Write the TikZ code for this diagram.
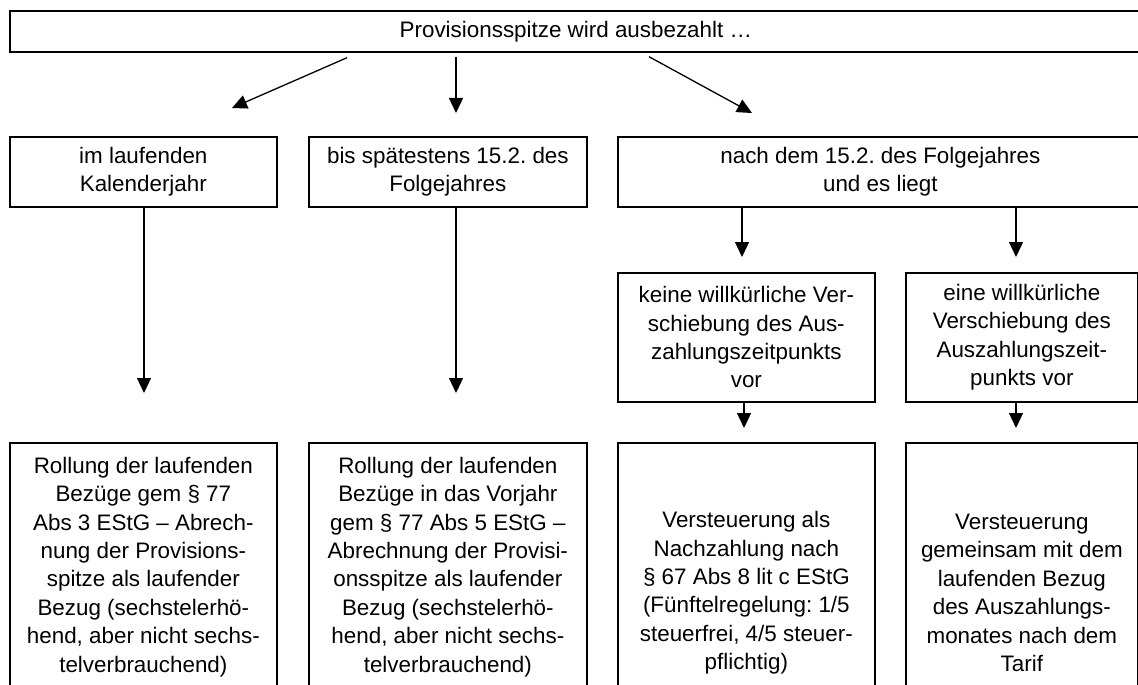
\documentclass[tikz,border=0pt]{standalone}
\usepackage{fontspec}
\setmainfont{Liberation Sans}
\usetikzlibrary{arrows.meta,calc}
\newlength\px
\setlength\px{0.5pt}
\frenchspacing

\begin{document}
\begin{tikzpicture}[x=0.5pt,y=-0.5pt,
  box/.style={draw,line width=0.85pt,anchor=north west,align=center,inner sep=1pt,
    font=\fontsize{11.2pt}{14.2pt}\selectfont},
  arr/.style={-{Triangle[length=7.5pt,width=7pt]},line width=0.65pt}]
\clip (0,0) rectangle (1138,684);
% top row
\node[box,minimum width=1132\px,minimum height=41\px] (top) at (9,10) {Provisionsspitze wird ausbezahlt \dots};
% second row
\node[box,minimum width=267\px,minimum height=70\px] (kal) at (9,136) {im laufenden\\Kalenderjahr};
\node[box,minimum width=278\px,minimum height=70\px] (folge) at (308,136) {bis spätestens 15.2. des\\Folgejahres};
\node[box,minimum width=525\px,minimum height=70\px] (nach) at (617,136) {nach dem 15.2. des Folgejahres\\und es liegt};
% third row
\node[box,minimum width=257\px,minimum height=129\px] (keine) at (617,272) {keine willkürliche Ver-\\schiebung des Aus-\\zahlungszeitpunkts\\vor};
\node[box,minimum width=232\px,minimum height=129\px] (eine) at (905,272) {eine willkürliche\\Verschiebung des\\Auszahlungszeit-\\punkts vor};
% bottom row
\node[box,minimum width=267\px,minimum height=248\px] (rollA) at (9,442) {Rollung der laufenden\\Bezüge gem § 77\\Abs 3 EStG – Abrech-\\nung der Provisions-\\spitze als laufender\\Bezug (sechstelerhö-\\hend, aber nicht sechs-\\telverbrauchend)};
\node[box,minimum width=278\px,minimum height=248\px] (rollB) at (308,442) {Rollung der laufenden\\Bezüge in das Vorjahr\\gem § 77 Abs 5 EStG –\\Abrechnung der Provisi-\\onsspitze als laufender\\Bezug (sechstelerhö-\\hend, aber nicht sechs-\\telverbrauchend)};
\node[box,minimum width=257\px,minimum height=300\px] (nachz) at (617,442) {Versteuerung als\\Nachzahlung nach\\§ 67 Abs 8 lit c EStG\\(Fünftelregelung: 1/5\\steuerfrei, 4/5 steuer-\\pflichtig)};
\node[box,minimum width=232\px,minimum height=300\px] (tarif) at (905,442) {Versteuerung\\gemeinsam mit dem\\laufenden Bezug\\des Auszahlungs-\\monates nach dem\\Tarif};
% arrows
\draw[arr] ($(top.south west)+(338,5)$) -- ($(kal.north west)+(223,-28)$);
\draw[arr] ($(top.south west)+(447,4)$) -- ($(folge.north west)+(148,-23)$);
\draw[arr] ($(top.south west)+(640,4)$) -- ($(nach.north west)+(135,-23)$);
\draw[arr] ($(kal.south west)+(135,0)$) -- ($(rollA.north west)+(135,-49)$);
\draw[arr] ($(folge.south west)+(148,0)$) -- ($(rollB.north west)+(148,-49)$);
\draw[arr] ($(nach.south west)+(125,0)$) -- ($(keine.north west)+(125,-15)$);
\draw[arr] ($(nach.south west)+(399,0)$) -- ($(eine.north west)+(111,-15)$);
\draw[arr] ($(keine.south west)+(127,0)$) -- ($(nachz.north west)+(127,-14)$);
\draw[arr] ($(eine.south west)+(111,0)$) -- ($(tarif.north west)+(111,-14)$);
\end{tikzpicture}
\end{document}
